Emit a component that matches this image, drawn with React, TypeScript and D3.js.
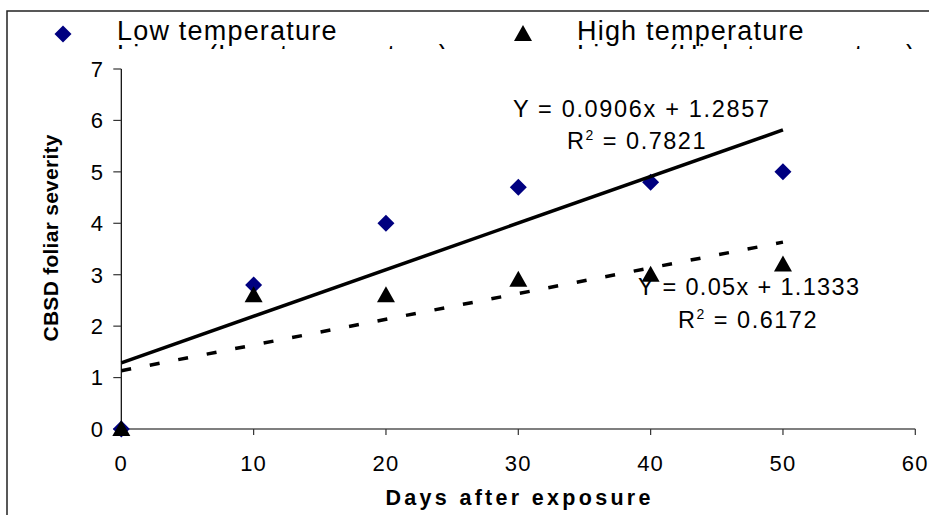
import React from "react";
import * as d3 from "d3";

const days = [0, 10, 20, 30, 40, 50];
const lowTemp = [0, 2.8, 4.0, 4.7, 4.8, 5.0];
const highTemp = [0, 2.6, 2.6, 2.9, 3.0, 3.2];
const lowFit = [0.0906, 1.2857]; // slope, intercept
const highFit = [0.05, 1.1333];
const xTicks = [0, 10, 20, 30, 40, 50, 60];
const yTicks = [0, 1, 2, 3, 4, 5, 6, 7];
const legendLabels = ["Low temperature", "High temperature"];
const legendLinear = ["Linear (Low temperature)", "Linear (High temperature)"];
const lowEq = ["Y = 0.0906x + 1.2857", "0.7821"];
const highEq = ["Y = 0.05x + 1.1333", "0.6172"];

const W = 929;
const H = 515;
const FONT = "'Liberation Sans', Arial, sans-serif";

export default function App() {
  const x = d3.scaleLinear().domain([0, 60]).range([121.3, 915.3]);
  const y = d3.scaleLinear().domain([0, 7]).range([429, 69]);
  const pts = days.map((d, i) => ({ d, lo: lowTemp[i], hi: highTemp[i] }));
  const fitLine = (f: number[]) =>
    d3.line<number>().x((d) => x(d)).y((d) => y(f[0] * d + f[1]))([0, 50]) || "";
  const tri = (cx: number, cy: number) =>
    `M${cx},${cy - 9}L${cx + 9},${cy + 7}L${cx - 9},${cy + 7}Z`;
  const dia = (cx: number, cy: number) =>
    `M${cx},${cy - 8.5}L${cx + 8.5},${cy}L${cx},${cy + 8.5}L${cx - 8.5},${cy}Z`;

  return (
    <svg
      width={W}
      height={H}
      style={{ position: "fixed", left: 0, top: 0, background: "#fff" }}
      fontFamily={FONT}
    >
      <defs>
        <clipPath id="legclip">
          <rect x={0} y={0} width={W} height={49} />
        </clipPath>
      </defs>
      <rect x={0} y={0} width={W} height={H} fill="#fff" />
      {/* outer frame */}
      <path d={`M7,${H}L7,11L${W},11`} fill="none" stroke="#222" strokeWidth={1.5} />

      {/* legend */}
      <path d={dia(63, 34)} fill="#000080" />
      <text x={117} y={40} fontSize={27} letterSpacing={1.2} fill="#000">
        {legendLabels[0]}
      </text>
      <path d={tri(523, 34)} fill="#000" />
      <text x={577} y={40} fontSize={27} letterSpacing={1.2} fill="#000">
        {legendLabels[1]}
      </text>
      <g clipPath="url(#legclip)">
        <text x={117} y={64} fontSize={27} letterSpacing={1.2} fill="#000">
          {legendLinear[0]}
        </text>
        <text x={577} y={64} fontSize={27} letterSpacing={1.2} fill="#000">
          {legendLinear[1]}
        </text>
      </g>

      {/* y axis */}
      <line x1={x(0)} x2={x(0)} y1={y(7)} y2={y(0)} stroke="#000" strokeWidth={1.2} />
      {yTicks.map((t) => (
        <g key={"y" + t}>
          <line x1={x(0) - 8} x2={x(0)} y1={y(t)} y2={y(t)} stroke="#333" strokeWidth={1.2} />
          <text
            x={103}
            y={y(t)}
            dy="0.36em"
            textAnchor="end"
            fontSize={22}
            fill="#000"
          >
            {t}
          </text>
        </g>
      ))}
      {/* x axis */}
      <line x1={x(0)} x2={x(60)} y1={y(0)} y2={y(0)} stroke="#000" strokeWidth={1.2} />
      {xTicks.map((t) => (
        <g key={"x" + t}>
          <line x1={x(t)} x2={x(t)} y1={y(0)} y2={y(0) + 6} stroke="#333" strokeWidth={1.2} />
          <text x={x(t)} y={470.5} textAnchor="middle" fontSize={22} letterSpacing={1.2} fill="#000">
            {t}
          </text>
        </g>
      ))}

      {/* axis titles */}
      <text
        x={518}
        y={505}
        textAnchor="middle"
        fontSize={21.5}
        fontWeight="bold"
        textLength={265}
        lengthAdjust="spacing"
        fill="#000"
      >
        Days after exposure
      </text>
      <text
        transform="translate(58,238) rotate(-90)"
        textAnchor="middle"
        fontSize={21}
        fontWeight="bold"
        textLength={207}
        lengthAdjust="spacing"
        fill="#000"
      >
        CBSD foliar severity
      </text>

      {/* markers */}
      {pts.map((p) => (
        <path key={"lo" + p.d} d={dia(x(p.d), y(p.lo))} fill="#000080" />
      ))}
      {pts.map((p) => (
        <path key={"hi" + p.d} d={tri(x(p.d), y(p.hi))} fill="#000" />
      ))}

      {/* trend lines */}
      <path d={fitLine(lowFit)} fill="none" stroke="#000" strokeWidth={3.5} />
      <path
        d={fitLine(highFit)}
        fill="none"
        stroke="#000"
        strokeWidth={3.5}
        strokeDasharray="10,19"
      />

      {/* equations */}
      <text x={641} y={116.5} textAnchor="middle" fontSize={23.5} textLength={256} lengthAdjust="spacing" fill="#000">
        {lowEq[0]}
      </text>
      <text x={637} y={149} textAnchor="middle" fontSize={23.5} fill="#000" letterSpacing={1.5}>
        R<tspan fontSize={14} dy={-9}>2</tspan>
        <tspan dy={9}> = {lowEq[1]}</tspan>
      </text>
      <text x={748.5} y={295} textAnchor="middle" fontSize={23.5} textLength={221} lengthAdjust="spacing" fill="#000">
        {highEq[0]}
      </text>
      <text x={748} y={328} textAnchor="middle" fontSize={23.5} fill="#000" letterSpacing={1.5}>
        R<tspan fontSize={14} dy={-9}>2</tspan>
        <tspan dy={9}> = {highEq[1]}</tspan>
      </text>
    </svg>
  );
}
